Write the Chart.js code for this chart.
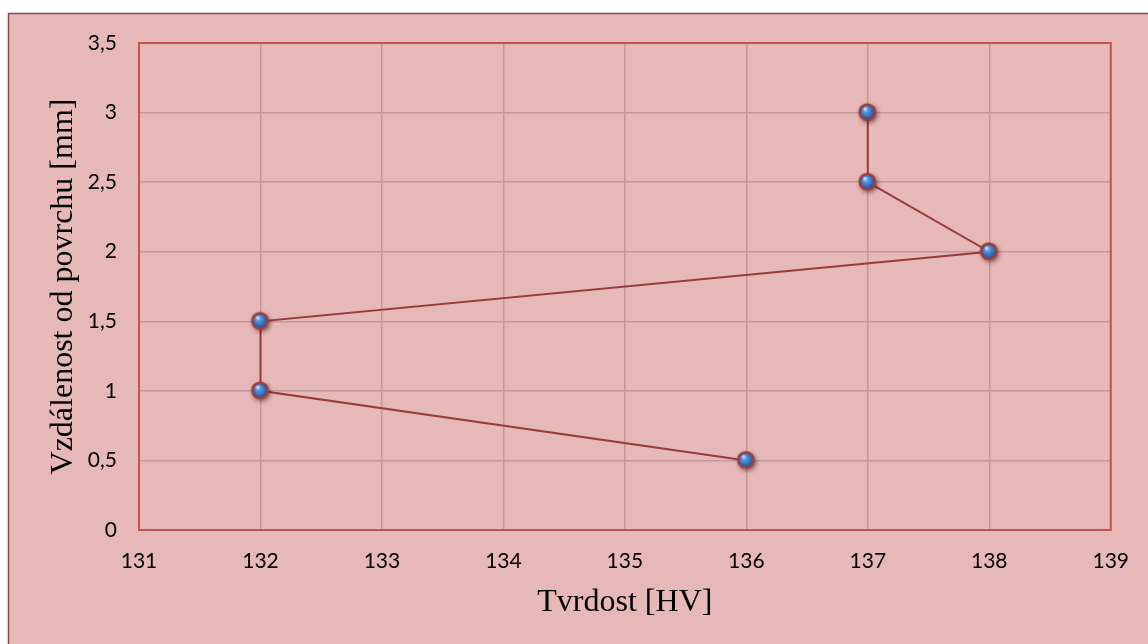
<!DOCTYPE html>
<html><head><meta charset="utf-8">
<script src="https://cdn.jsdelivr.net/npm/chart.js@4/dist/chart.umd.min.js"></script>
<style>html,body{margin:0;padding:0;background:#fff}#wrap{width:1148px;height:644px}</style>
</head><body><div id="wrap"><canvas id="c" width="1148" height="644"></canvas></div>
<script>
const hardness = [136, 132, 132, 138, 137, 137];
const depth = [0.5, 1, 1.5, 2, 2.5, 3];
const xTitle = 'Tvrdost [HV]';
const yTitle = 'Vzdálenost od povrchu [mm]';

function sphere(){
  const s = 28, c = document.createElement('canvas');
  c.width = s; c.height = s;
  const g = c.getContext('2d');
  const cx = 13.5, cy = 13.5, r = 8.8;
  g.shadowColor = 'rgba(60,20,20,0.6)'; g.shadowBlur = 4; g.shadowOffsetX = 1.5; g.shadowOffsetY = 2;
  g.beginPath(); g.arc(cx, cy, r, 0, Math.PI*2); g.fillStyle = '#9E3B3B'; g.fill();
  g.shadowColor = 'transparent';
  const gr = g.createRadialGradient(cx-2.5, cy-3.5, 0.5, cx, cy, r-1.5);
  gr.addColorStop(0, '#D4E5F8'); gr.addColorStop(0.3, '#5E98DC'); gr.addColorStop(0.75, '#2F6DBE'); gr.addColorStop(1, '#1D4A8E');
  g.beginPath(); g.arc(cx, cy, r-2, 0, Math.PI*2); g.fillStyle = gr; g.fill();
  g.beginPath(); g.arc(cx, cy, r-1.1, 0, Math.PI*2); g.lineWidth = 2.3; g.strokeStyle = '#A03E3E'; g.stroke();
  return c;
}

const bgPlugin = {
  id: 'bg',
  beforeDraw(chart){
    const ctx = chart.ctx;
    ctx.save();
    ctx.fillStyle = '#ffffff'; ctx.fillRect(0,0,chart.width,chart.height);
    ctx.fillStyle = '#E6B8B8'; ctx.fillRect(8.5,13.5,chart.width,chart.height);
    ctx.strokeStyle = '#8C4A4A'; ctx.lineWidth = 1.5;
    ctx.strokeRect(8.5,13.5,chart.width,chart.height);
    ctx.restore();
  }
};
const borderPlugin = {
  id: 'plotBorder',
  beforeDatasetsDraw(chart){
    const a = chart.chartArea, ctx = chart.ctx;
    ctx.save(); ctx.strokeStyle = '#C75250'; ctx.lineWidth = 2;
    ctx.strokeRect(a.left, a.top, a.right-a.left, a.bottom-a.top);
    ctx.restore();
  }
};

const pts = hardness.map((x,i)=>({x:x, y:depth[i]}));
new Chart(document.getElementById('c'), {
  type: 'scatter',
  data: { datasets: [{
    data: pts, showLine: true, borderColor: '#9B3A3A', borderWidth: 2,
    pointStyle: sphere(), pointRadius: 9, pointHoverRadius: 9, tension: 0
  }]},
  options: {
    responsive: false, animation: false, devicePixelRatio: 1,
    layout: { padding: { left: 20, top: 43, right: 36, bottom: 0 } },
    plugins: { legend: {display:false}, tooltip: {enabled:false} },
    scales: {
      x: {
        type: 'linear', min: 131, max: 139,
        ticks: { stepSize: 1, padding: 19, color: '#000', font: { family: 'Lato', size: 21 } },
        grid: { color: '#C49798', lineWidth: 1.5, drawTicks: false },
        border: { display: false },
        title: { display: true, text: xTitle, color: '#000', font: { family: 'Liberation Serif', size: 32 }, padding: { top: 0, bottom: 22 } },
        afterFit(s){ s.height = 114; }
      },
      y: {
        type: 'linear', min: 0, max: 3.5,
        ticks: { stepSize: 0.5, padding: 22, color: '#000', font: { family: 'Lato', size: 21 },
          callback: v => String(v).replace('.', ',') },
        grid: { color: '#C49798', lineWidth: 1.5, drawTicks: false },
        border: { display: false },
        title: { display: true, text: yTitle, color: '#000', font: { family: 'Liberation Serif', size: 32 }, padding: { top: 24, bottom: 0 } },
        afterFit(s){ s.width = 119; }
      }
    }
  },
  plugins: [bgPlugin, borderPlugin]
});
</script>
</body></html>
